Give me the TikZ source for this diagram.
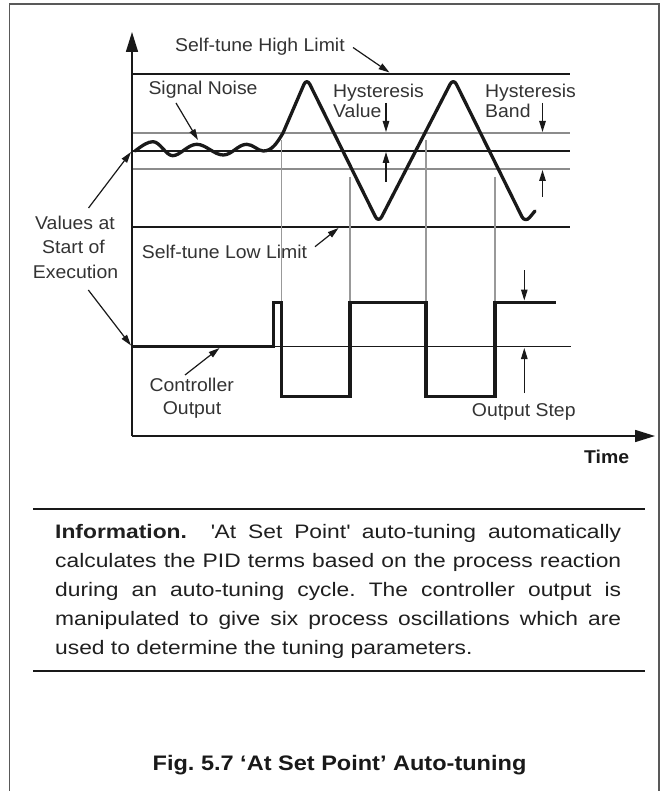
\documentclass[tikz,border=0pt]{standalone}
\usepackage{fontspec}
\setmainfont{Liberation Sans}
\newfontfamily\lblfont{Liberation Sans}[FakeStretch=1.05]
\newfontfamily\infofont{Liberation Sans}[FakeStretch=1.17]
\newfontfamily\capfont{Liberation Sans}[FakeStretch=1.12]
\usetikzlibrary{arrows.meta}
\frenchspacing
\begin{document}
\begin{tikzpicture}[x=1pt,y=-1pt,
  lbl/.style={font=\lblfont\fontsize{18.5}{22}\selectfont, text=black!80, inner sep=0pt},
  infoline/.style={font=\infofont\fontsize{19.5}{29}\selectfont, text=black!88, inner sep=0pt, anchor=base west},
  limitline/.style={line width=2pt, black!90},
  hystline/.style={line width=1.5pt, black!45},
  guide/.style={line width=1.1pt, black!40},
  sigline/.style={line width=3.3pt, black!90, line join=round, line cap=round},
  outline/.style={line width=3.3pt, black!90, line join=miter},
  axisline/.style={line width=1.6pt, black!90, -{Triangle[length=20pt,width=12pt]}},
  lblarrow/.style={line width=1.2pt, black!90, -{Triangle[length=11pt,width=6.5pt]}},
  sep/.style={line width=1.5pt, black!90}
]
\useasboundingbox (0,0) rectangle (667,791);
% frame
\draw[line width=1.2pt, black!65] (9.5,792) -- (9.5,4) -- (659,4) -- (659,792);

% axes
\coordinate (O) at (132,436);
\coordinate (ytop) at (132,32);
\coordinate (xend) at (655,436);
\draw[axisline] (O) -- (ytop);
\draw[axisline] (O) -- (xend);

% horizontal reference lines
\draw[limitline] (133,74) -- (570,74);
\draw[hystline] (133,133) -- (570,133);
\draw[limitline] (133,151) -- (570,151);
\draw[hystline] (133,169) -- (570,169);
\draw[limitline] (133,226.7) -- (570,226.7);
\draw[line width=1pt, black!90] (133,346.7) -- (570.7,346.7);

% vertical guide lines
\draw[guide] (281.5,140) -- (281.5,302);
\draw[guide] (350,176.7) -- (350,302);
\draw[guide] (426,140) -- (426,302);
\draw[guide] (495,176.7) -- (495,302);

% signal
\draw[sigline]
  (135,151) .. controls (143,145) and (148,141.7) .. (153,141.7)
  .. controls (160,141.7) and (166,155.7) .. (172.7,155.7)
  .. controls (180,155.7) and (188,144.3) .. (196.7,144.3)
  .. controls (206,144.3) and (214,155) .. (223.3,155)
  .. controls (232,155) and (238,144.3) .. (246.7,144.3)
  .. controls (253,144.3) and (258,151) .. (263.3,151)
  .. controls (272,151) and (277,143) .. (283,133)
  [rounded corners=7pt] -- (306.7,78) -- (378.5,223) -- (453.3,78) -- (525,223) -- (535,211);

% controller output
\draw[outline] (133,346.7) -| (273.3,302.3) -| (281.7,396.7) -| (350,302.3)
  -| (426,396.7) -| (495,302.3) -- (555.7,302.3);

% labels
\node[lbl,anchor=base west] (hi) at (175,51.7) {Self-tune High Limit};
\node[lbl,anchor=base west] (noise) at (148.3,95) {Signal Noise};
\node[lbl,anchor=base west] (hv1) at (333,98) {Hysteresis};
\node[lbl,anchor=base west] (hv2) at (333,118) {Value};
\node[lbl,anchor=base west] (hb1) at (485,98) {Hysteresis};
\node[lbl,anchor=base west] (hb2) at (485,118) {Band};
\node[lbl,anchor=base] (vs1) at (75,230) {Values at};
\node[lbl,anchor=base] (vs2) at (73.5,253.3) {Start of};
\node[lbl,anchor=base] (vs3) at (75.5,278.3) {Execution};
\node[lbl,anchor=base west] (lo) at (141.7,258.3) {Self-tune Low Limit};
\node[lbl,anchor=base] (co1) at (191.7,391.7) {Controller};
\node[lbl,anchor=base] (co2) at (192,414) {Output};
\node[lbl,anchor=base west] (os) at (471.7,416.7) {Output Step};
\node[lbl,anchor=base,text=black!90,font=\lblfont\bfseries\fontsize{18.5}{22}\selectfont] (time) at (606.7,463.3) {Time};

% label arrows
\coordinate (hiS) at (353,47.5);   \coordinate (hiE) at (389.5,72.5);
\coordinate (nS) at (176,103);     \coordinate (nE) at (198,140);
\coordinate (vaS) at (88.5,208);   \coordinate (vaE) at (131,152);
\coordinate (vbS) at (88.3,290);   \coordinate (vbE) at (131,345.5);
\coordinate (loS) at (315,246.7);  \coordinate (loE) at (338.5,228);
\coordinate (coS) at (185,375);    \coordinate (coE) at (219.5,348);
\draw[lblarrow] (hiS) -- (hiE);
\draw[lblarrow] (nS) -- (nE);
\draw[lblarrow] (vaS) -- (vaE);
\draw[lblarrow] (vbS) -- (vbE);
\draw[lblarrow] (loS) -- (loE);
\draw[lblarrow] (coS) -- (coE);

% hysteresis and step arrows
\coordinate (h1a) at (386,103);   \coordinate (h1b) at (386,132);
\coordinate (h2a) at (386,182);   \coordinate (h2b) at (386,152);
\coordinate (h3a) at (542.5,103); \coordinate (h3b) at (542.5,132);
\coordinate (h4a) at (542.5,197); \coordinate (h4b) at (542.5,170);
\coordinate (s1a) at (524.3,270); \coordinate (s1b) at (524.3,300.5);
\coordinate (s2a) at (524.3,393); \coordinate (s2b) at (524.3,348);
\draw[lblarrow] (h1a) -- (h1b);
\draw[lblarrow] (h2a) -- (h2b);
\draw[lblarrow] (h3a) -- (h3b);
\draw[lblarrow] (h4a) -- (h4b);
\draw[lblarrow] (s1a) -- (s1b);
\draw[lblarrow] (s2a) -- (s2b);

% information block
\draw[sep] (33,509) -- (645,509);
\node[infoline] (i1) at (55,538.3) {\makebox[566pt][s]{\bfseries Information.\ \ \mdseries\textquotesingle At Set Point\textquotesingle\ auto-tuning automatically}};
\node[infoline] (i2) at (55,567.3) {\makebox[566pt][s]{calculates the PID terms based on the process reaction}};
\node[infoline] (i3) at (55,596.3) {\makebox[566pt][s]{during an auto-tuning cycle. The controller output is}};
\node[infoline] (i4) at (55,625.3) {\makebox[566pt][s]{manipulated to give six process oscillations which are}};
\node[infoline] (i5) at (55,654.3) {used to determine the tuning parameters.};
\draw[sep] (33,671) -- (645,671);

\node[font=\capfont\bfseries\fontsize{21}{25}\selectfont, text=black!90, inner sep=0pt, anchor=base] (cap) at (339.5,770) {Fig. 5.7 ‘At Set Point’ Auto-tuning};
\end{tikzpicture}
\end{document}
